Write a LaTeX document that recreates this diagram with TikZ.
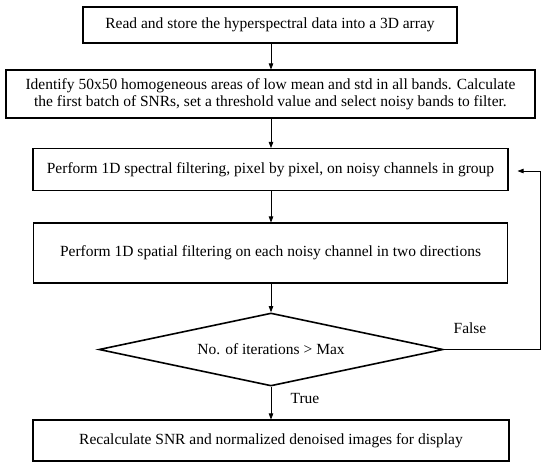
\documentclass[tikz,border=0pt]{standalone}
\usepackage{fontspec}
\setmainfont{Liberation Serif}
\usetikzlibrary{shapes.geometric,arrows.meta}
\begin{document}
\begin{tikzpicture}[x=1pt,y=-1pt,
  txt/.style={font=\fontsize{15.5}{17}\selectfont},
  stepbox/.style={txt, draw, line width=1.1pt, inner sep=0pt, align=center},
  decision/.style={txt, draw, diamond, shape aspect=4.7, line width=1.6pt, inner sep=0pt},
  flow/.style={-{Triangle[length=6pt,width=4.5pt]}, line width=0.8pt},
  lbl/.style={txt, inner sep=0pt}]
\useasboundingbox (0,0) rectangle (550,469);
\fill[white] (0,0) rectangle (550,469);
\node[stepbox, minimum width=374pt, minimum height=36pt] (b1) at (270,25) {Read and store the hyperspectral data into a 3D array};
\node[stepbox, minimum width=529pt, minimum height=48pt] (b2) at (270.5,94) {Identify 50x50 homogeneous areas of low mean and std in all bands. Calculate\\the first batch of SNRs, set a threshold value and select noisy bands to filter.};
\node[stepbox, minimum width=475pt, minimum height=42pt] (b3) at (270.5,169.5) {Perform 1D spectral filtering, pixel by pixel, on noisy channels in group};
\node[stepbox, minimum width=474pt, minimum height=60pt] (b4) at (270.5,253) {Perform 1D spatial filtering on each noisy channel in two directions};
\node[decision, minimum width=344pt, minimum height=73pt] (d) at (271,349.5) {No. of iterations > Max};
\node[stepbox, minimum width=476pt, minimum height=41pt] (b5) at (271,440.5) {Recalculate SNR and normalized denoised images for display};
\coordinate (c1) at (540,349.5);
\coordinate (c2) at (540,171);
\draw[flow] (b1.south -| 271,0) -- (b2.north -| 271,0);
\draw[flow] (b2.south -| 271,0) -- (b3.north -| 271,0);
\draw[flow] (b3.south -| 271,0) -- (b4.north -| 271,0);
\draw[flow] (b4.south -| 271,0) -- (d.north);
\draw[flow] (d.south) -- (b5.north);
\draw[flow] (d.east) -- (c1) -- (c2) -- ([xshift=9pt]b3.east |- c2);
\node[lbl] (fl) at (470,328) {False};
\node[lbl] (tl) at (305,398) {True};
\end{tikzpicture}
\end{document}
